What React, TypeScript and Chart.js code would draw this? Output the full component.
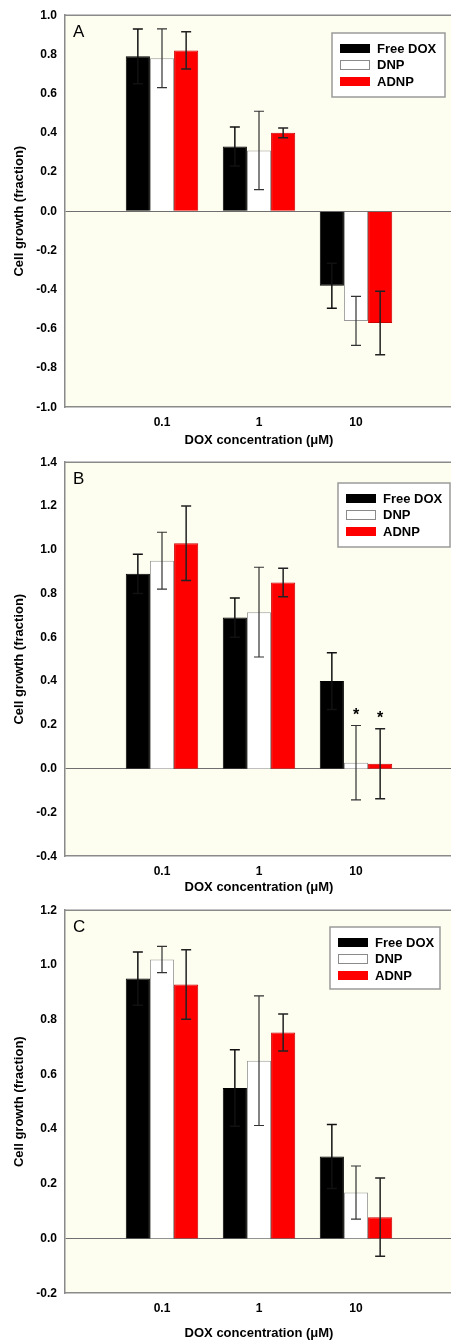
import React, { useEffect, useRef } from 'react';
import { Chart, registerables } from 'chart.js';

Chart.register(...registerables);

// ---------- data ----------
const categories = ['0.1', '1', '10'];
const seriesNames = ['Free DOX', 'DNP', 'ADNP'];

// Panel A
const freeDoxA = [0.79, 0.33, -0.38];
const freeDoxErrA = [0.14, 0.10, 0.115];
const dnpA = [0.78, 0.31, -0.56];
const dnpErrA = [0.15, 0.20, 0.125];
const adnpA = [0.82, 0.40, -0.57];
const adnpErrA = [0.095, 0.025, 0.162];

// Panel B
const freeDoxB = [0.89, 0.69, 0.40];
const freeDoxErrB = [0.09, 0.09, 0.13];
const dnpB = [0.95, 0.715, 0.027];
const dnpErrB = [0.13, 0.205, 0.17];
const adnpB = [1.03, 0.85, 0.022];
const adnpErrB = [0.17, 0.065, 0.16];
const asterisksB = [
  { series: 1, category: 2 },
  { series: 2, category: 2 },
];

// Panel C
const freeDoxC = [0.95, 0.55, 0.30];
const freeDoxErrC = [0.097, 0.14, 0.117];
const dnpC = [1.02, 0.65, 0.168];
const dnpErrC = [0.048, 0.237, 0.097];
const adnpC = [0.928, 0.753, 0.078];
const adnpErrC = [0.127, 0.068, 0.143];

// y-axis ranges (tick labels every 0.2)
const yRangeA = [-1.0, 1.0];
const yRangeB = [-0.4, 1.4];
const yRangeC = [-0.2, 1.2];
const yStep = 0.2;

const yTitle = 'Cell growth (fraction)';
const xTitle = 'DOX concentration (\u03BCM)';

// ---------- styles ----------
const FONT = '"Liberation Sans", Arial, Helvetica, sans-serif';
const PLOT_BG = '#fdfdf0';
const AXIS_COLOR = '#8a8a8a';
const fills = ['#000000', '#ffffff', '#ff0000'];
const borders = ['#000000', '#9a9a9a', '#cc0000'];
const errColors = ['#111111', '#333333', '#222222'];

const CANVAS_W = 461;

const panels = [
  {
    letter: 'A',
    values: [freeDoxA, dnpA, adnpA],
    errors: [freeDoxErrA, dnpErrA, adnpErrA],
    yRange: yRangeA,
    stars: [] as { series: number; category: number }[],
    top: 0,
    height: 448,
    axisH: 40.8,
    legend: { x: 332, y: 33, w: 113, h: 64 },
  },
  {
    letter: 'B',
    values: [freeDoxB, dnpB, adnpB],
    errors: [freeDoxErrB, dnpErrB, adnpErrB],
    yRange: yRangeB,
    stars: asterisksB,
    top: 447,
    height: 448,
    axisH: 38.8,
    legend: { x: 338, y: 36, w: 112, h: 64 },
  },
  {
    letter: 'C',
    values: [freeDoxC, dnpC, adnpC],
    errors: [freeDoxErrC, dnpErrC, adnpErrC],
    yRange: yRangeC,
    stars: [] as { series: number; category: number }[],
    top: 895,
    height: 446,
    axisH: 47.8,
    legend: { x: 330, y: 32, w: 110, h: 62 },
  },
];

type PanelCfg = (typeof panels)[number];

function makePlugin(cfg: PanelCfg) {
  return {
    id: 'panelDecor' + cfg.letter,
    beforeDraw(chart: any) {
      const { ctx, chartArea: a } = chart;
      ctx.save();
      ctx.fillStyle = PLOT_BG;
      ctx.fillRect(a.left, a.top, a.right - a.left, a.bottom - a.top);
      ctx.restore();
    },
    afterDatasetsDraw(chart: any) {
      const { ctx } = chart;
      const yScale = chart.scales.y;
      ctx.save();
      chart.data.datasets.forEach((_ds: any, di: number) => {
        const meta = chart.getDatasetMeta(di);
        meta.data.forEach((bar: any, i: number) => {
          const ci = i - 1;
          if (ci < 0 || ci >= categories.length) return;
          const v = cfg.values[di][ci];
          const e = cfg.errors[di][ci];
          const x = bar.x;
          const yt = yScale.getPixelForValue(v + e);
          const yb = yScale.getPixelForValue(v - e);
          ctx.strokeStyle = errColors[di];
          ctx.lineWidth = di === 1 ? 1.2 : 1.5;
          ctx.beginPath();
          ctx.moveTo(x, yt);
          ctx.lineTo(x, yb);
          ctx.moveTo(x - 5, yt);
          ctx.lineTo(x + 5, yt);
          ctx.moveTo(x - 5, yb);
          ctx.lineTo(x + 5, yb);
          ctx.stroke();
        });
      });
      ctx.restore();
    },
    afterDraw(chart: any) {
      const { ctx, chartArea: a } = chart;
      const yScale = chart.scales.y;
      ctx.save();
      // top border
      ctx.strokeStyle = AXIS_COLOR;
      ctx.lineWidth = 1.5;
      ctx.beginPath();
      ctx.moveTo(a.left, a.top);
      ctx.lineTo(a.right, a.top);
      ctx.stroke();

      // panel letter
      ctx.fillStyle = '#000';
      ctx.font = `17px ${FONT}`;
      ctx.textAlign = 'left';
      ctx.textBaseline = 'middle';
      ctx.fillText(cfg.letter, a.left + 8, a.top + 17);

      // asterisks
      ctx.font = `bold 16px ${FONT}`;
      ctx.textAlign = 'center';
      ctx.textBaseline = 'alphabetic';
      cfg.stars.forEach((s) => {
        const bar = chart.getDatasetMeta(s.series).data[s.category + 1];
        const v = cfg.values[s.series][s.category];
        const e = cfg.errors[s.series][s.category];
        const yt = yScale.getPixelForValue(v + e);
        ctx.fillText('*', bar.x, yt - 6);
      });

      // legend
      const L = cfg.legend;
      ctx.fillStyle = '#ffffff';
      ctx.fillRect(L.x, L.y, L.w, L.h);
      ctx.strokeStyle = '#9a9a9a';
      ctx.lineWidth = 1.5;
      ctx.strokeRect(L.x, L.y, L.w, L.h);
      ctx.font = `bold 13px ${FONT}`;
      ctx.textAlign = 'left';
      ctx.textBaseline = 'middle';
      seriesNames.forEach((name, i) => {
        const cy = L.y + 15.5 + i * 16.5;
        const sx = L.x + 8;
        ctx.fillStyle = fills[i];
        ctx.fillRect(sx, cy - 4.5, 30, 9);
        if (i === 1) {
          ctx.strokeStyle = '#8a8a8a';
          ctx.lineWidth = 1;
          ctx.strokeRect(sx + 0.5, cy - 4.5, 29, 9);
        }
        ctx.fillStyle = '#000';
        ctx.fillText(name, L.x + 45, cy + 0.5);
      });
      ctx.restore();
    },
  };
}

function Panel({ cfg }: { cfg: PanelCfg }) {
  const ref = useRef<HTMLCanvasElement>(null);
  useEffect(() => {
    const labels = ['', ...categories, ''];
    const datasets = seriesNames.map((name, i) => ({
      label: name,
      data: [null, ...cfg.values[i], null],
      backgroundColor: fills[i],
      borderColor: borders[i],
      borderWidth: 1,
      categoryPercentage: 0.747,
      barPercentage: 1.0,
    }));
    const chart = new Chart(ref.current as HTMLCanvasElement, {
      type: 'bar',
      data: { labels, datasets },
      options: {
        animation: false,
        responsive: false,
        devicePixelRatio: 1,
        layout: { padding: { top: 14, left: 0, right: 0, bottom: 0 } },
        plugins: {
          legend: { display: false },
          tooltip: { enabled: false },
        },
        scales: {
          x: {
            type: 'category',
            offset: false,
            grid: { display: false, drawTicks: false, offset: false },
            border: { display: true, color: AXIS_COLOR, width: 1.5 },
            ticks: {
              autoSkip: false,
              maxRotation: 0,
              padding: 8,
              color: '#000',
              font: { family: FONT, size: 12, weight: 'bold' },
            },
            title: {
              display: true,
              text: xTitle,
              color: '#000',
              font: { family: FONT, size: 13, weight: 'bold' },
              padding: { top: 0, bottom: 0 },
            },
            afterFit: (s: any) => {
              s.height = cfg.axisH;
            },
          },
          y: {
            min: cfg.yRange[0],
            max: cfg.yRange[1],
            grid: {
              drawTicks: false,
              lineWidth: 1,
              color: (c: any) =>
                c.tick && Math.abs(c.tick.value) < 1e-9 ? '#6f6f6f' : 'rgba(0,0,0,0)',
            },
            border: { display: true, color: AXIS_COLOR, width: 1.5 },
            ticks: {
              stepSize: yStep,
              padding: 8,
              color: '#000',
              font: { family: FONT, size: 12, weight: 'bold' },
              callback: (v: any) => (Math.abs(Number(v)) < 1e-9 ? '0.0' : Number(v).toFixed(1)),
            },
            title: {
              display: true,
              text: yTitle,
              color: '#000',
              font: { family: FONT, size: 13, weight: 'bold' },
              padding: { top: 12, bottom: 0 },
            },
            afterFit: (s: any) => {
              s.width = 65;
            },
          },
        },
      } as any,
      plugins: [makePlugin(cfg) as any],
    });
    return () => chart.destroy();
  }, [cfg]);
  return (
    <canvas
      ref={ref}
      width={CANVAS_W}
      height={cfg.height}
      style={{ position: 'absolute', left: 0, top: cfg.top, width: CANVAS_W, height: cfg.height }}
    />
  );
}

export default function App() {
  return (
    <div
      style={{
        position: 'absolute',
        left: 0,
        top: 0,
        width: 451,
        height: 1343,
        overflow: 'hidden',
        background: '#ffffff',
      }}
    >
      {panels.map((p) => (
        <Panel key={p.letter} cfg={p} />
      ))}
    </div>
  );
}
